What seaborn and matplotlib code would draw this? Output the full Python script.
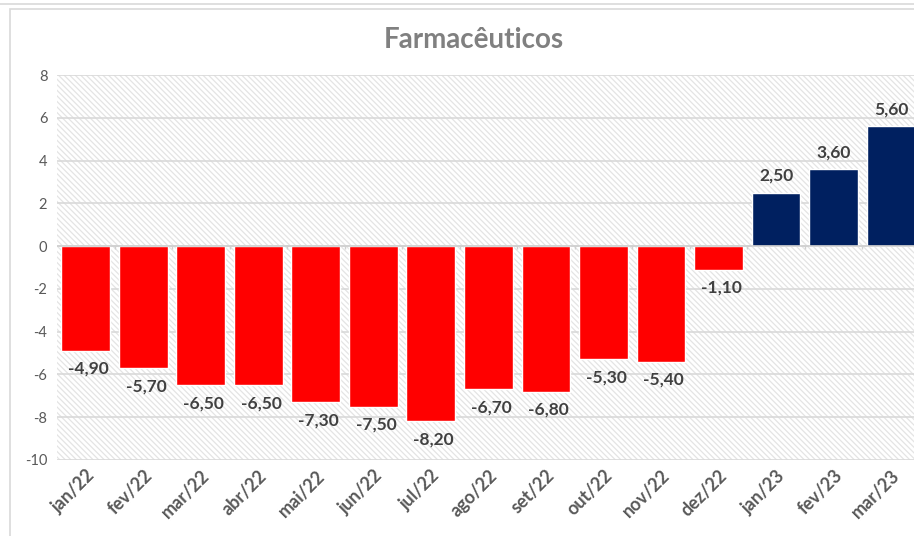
import numpy as np
import pandas as pd
import matplotlib
matplotlib.use("Agg")
import matplotlib.pyplot as plt
from matplotlib.patches import Rectangle
import seaborn as sns

# dados do grafico
meses = ["jan/22", "fev/22", "mar/22", "abr/22", "mai/22", "jun/22", "jul/22",
         "ago/22", "set/22", "out/22", "nov/22", "dez/22", "jan/23", "fev/23", "mar/23"]
valores = [-4.9, -5.7, -6.5, -6.5, -7.3, -7.5, -8.2, -6.7, -6.8, -5.3, -5.4, -1.1, 2.5, 3.6, 5.6]
y_ticks = [-10, -8, -6, -4, -2, 0, 2, 4, 6, 8]

df = pd.DataFrame({"mes": meses, "valor": valores})
df["grupo"] = np.where(df["valor"] < 0, "neg", "pos")
cores = {"neg": "#FF0000", "pos": "#002060"}

sns.set_style("white")
plt.rcParams["font.family"] = ["Lato", "DejaVu Sans"]
plt.rcParams["hatch.linewidth"] = 0.9

fig = plt.figure(figsize=(9.14, 5.36), dpi=100)
ax = fig.add_axes([0.0624, 0.1418, 0.944, 0.7182])

# fundo hachurado
hatch = Rectangle((0, 0), 1, 1, transform=ax.transAxes, facecolor="white",
                  edgecolor="#e4e4e4", hatch="\\\\\\\\\\\\", linewidth=0, zorder=0)
ax.add_patch(hatch)
ax.patch.set_visible(False)

sns.barplot(data=df, x="mes", y="valor", hue="grupo", palette=cores, dodge=False,
            legend=False, width=0.85, saturation=1, ax=ax, zorder=3)

for i, v in enumerate(valores):
    txt = f"{v:.2f}".replace(".", ",")
    off = -13 if v < 0 else 12
    ax.annotate(txt, (i, v), xytext=(2 if v < 0 else 0, off), textcoords="offset points",
                ha="center", va="center", fontsize=12.5, fontweight="bold", color="#404040",
                zorder=5)

ax.set_ylim(-10, 8)
ax.set_xlim(-0.5, len(meses) - 0.5)
ax.set_yticks(y_ticks)
ax.set_yticklabels([str(t) for t in y_ticks], color="#595959", fontsize=10.5)
for t in y_ticks:
    ax.axhline(t, color="#d9d9d9", linewidth=1.2, zorder=1)
ax.axhline(0, color="#d0d0d0", linewidth=1.2, zorder=4)
ax.vlines(np.arange(len(meses)) + 0.5, -0.12, 0, color="#d0d0d0", linewidth=1, zorder=4)

ax.set_xticks(range(len(meses)))
ax.set_xticklabels(meses, rotation=45, ha="right", rotation_mode="anchor",
                   fontsize=13, fontweight="bold", color="#595959")
ax.tick_params(axis="both", length=0, pad=7)
ax.tick_params(axis="x", pad=5)
ax.set_xlabel("")
ax.set_ylabel("")
sns.despine(ax=ax, left=True, bottom=True)

fig.text(0.518, 0.925, "Farmacêuticos", ha="center", va="center", fontsize=20,
         fontweight="bold", color="#808080")

# moldura do grafico
fig.patches.append(Rectangle((10 / 914, -0.1), 1.1, 1 - 9 / 536 + 0.1, transform=fig.transFigure,
                             facecolor="none", edgecolor="#d9d9d9", linewidth=1.2))
fig.patches.append(Rectangle((-0.1, 1 - 4 / 536), 1.2, 0.1, transform=fig.transFigure,
                             facecolor="none", edgecolor="#d9d9d9", linewidth=1.2))

fig.savefig("out.png", dpi=100)
